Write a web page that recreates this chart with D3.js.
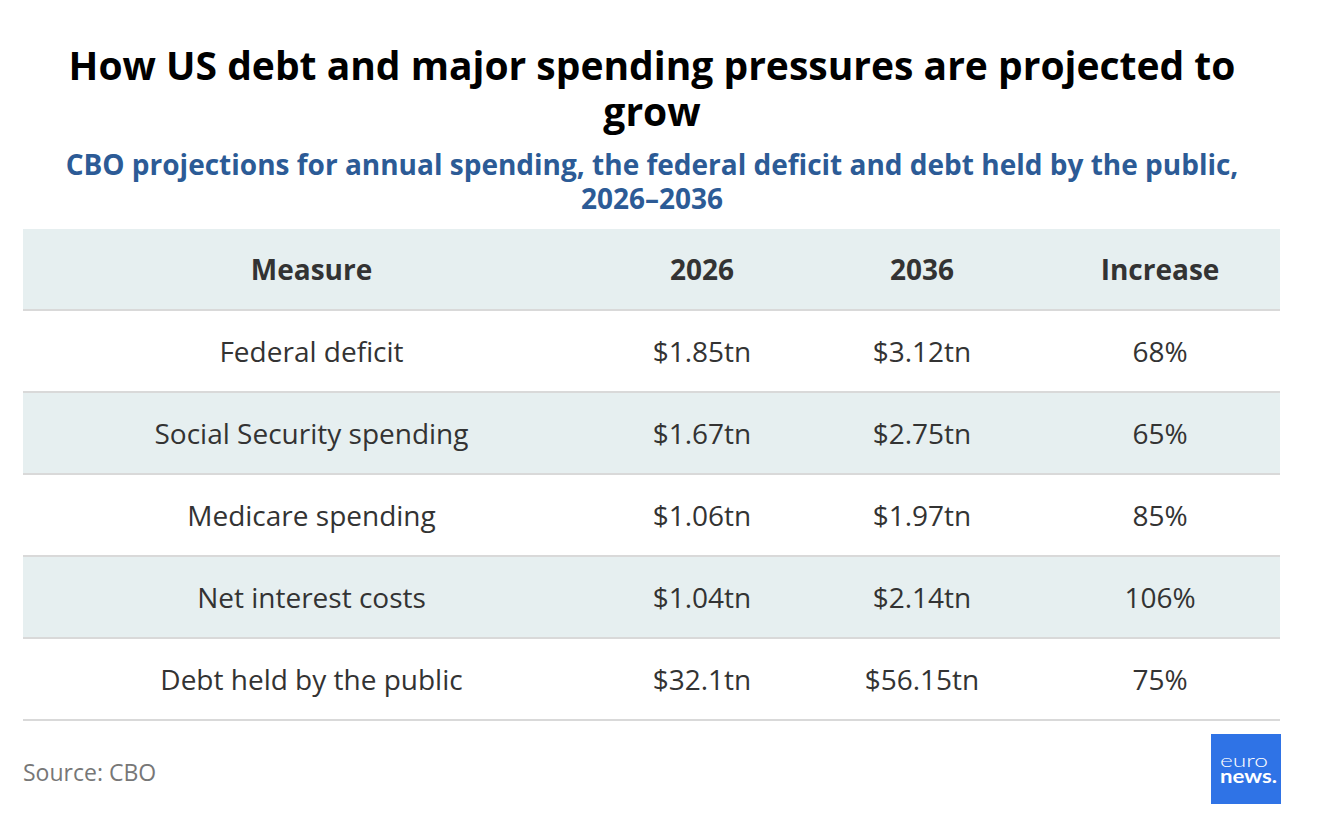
<!DOCTYPE html>
<html>
<head>
<meta charset="utf-8">
<script src="https://cdn.jsdelivr.net/npm/d3@7"></script>
<style>
  body { margin: 0; background: #fff; }
  svg { display: block; font-family: "Open Sans", "Noto Sans", sans-serif; }
</style>
</head>
<body>
<svg id="chart" width="1328" height="834"></svg>
<script>
const columns = ["Measure", "2026", "2036", "Increase"];
const measures = ["Federal deficit", "Social Security spending", "Medicare spending", "Net interest costs", "Debt held by the public"];
const values2026 = ["$1.85tn", "$1.67tn", "$1.06tn", "$1.04tn", "$32.1tn"];
const values2036 = ["$3.12tn", "$2.75tn", "$1.97tn", "$2.14tn", "$56.15tn"];
const increases = ["68%", "65%", "85%", "106%", "75%"];

const rows = measures.map((m, i) => [m, values2026[i], values2036[i], increases[i]]);

const svg = d3.select("#chart");
const left = 23, right = 1280;

// title, two lines as in the original
svg.append("text")
    .attr("x", 652).attr("y", 80)
    .attr("text-anchor", "middle")
    .attr("font-size", 39).attr("font-weight", 700).attr("fill", "#000")
    .text("How US debt and major spending pressures are projected to");
svg.append("text")
    .attr("x", 652).attr("y", 126)
    .attr("text-anchor", "middle")
    .attr("font-size", 39).attr("font-weight", 700).attr("fill", "#000")
    .text("grow");

svg.append("text")
    .attr("x", 652).attr("y", 175)
    .attr("text-anchor", "middle")
    .attr("font-size", 28).attr("font-weight", 700).attr("fill", "#2c5b96")
    .text("CBO projections for annual spending, the federal deficit and debt held by the public,");
svg.append("text")
    .attr("x", 652).attr("y", 209)
    .attr("text-anchor", "middle")
    .attr("font-size", 28).attr("font-weight", 700).attr("fill", "#2c5b96")
    .text("2026–2036");

// column edges
const colEdges = [left, 600, 804, 1040, right];
const colCenter = d3.scaleOrdinal()
    .domain(columns)
    .range(columns.map((c, i) => (colEdges[i] + colEdges[i + 1]) / 2));

// rows: header + data
const y = d3.scaleBand()
    .domain(d3.range(rows.length + 1))
    .range([229, 229 + 82 * (rows.length + 1)])
    .paddingInner(0);

const g = svg.append("g");

// backgrounds
g.selectAll("rect.bg")
    .data(d3.range(rows.length + 1))
    .enter().append("rect")
    .attr("class", "bg")
    .attr("x", left).attr("width", right - left)
    .attr("y", d => y(d)).attr("height", y.bandwidth())
    .attr("fill", d => d % 2 === 0 ? "#e6eff0" : "#ffffff");

// separators
g.selectAll("line.sep")
    .data(d3.range(rows.length + 1))
    .enter().append("line")
    .attr("class", "sep")
    .attr("x1", left).attr("x2", right)
    .attr("y1", d => y(d) + y.bandwidth() - 1)
    .attr("y2", d => y(d) + y.bandwidth() - 1)
    .attr("stroke", "#d9d9d9").attr("stroke-width", 2);

// header text
g.selectAll("text.head")
    .data(columns)
    .enter().append("text")
    .attr("class", "head")
    .attr("x", d => colCenter(d))
    .attr("y", y(0) + y.bandwidth() / 2)
    .attr("dy", "0.35em")
    .attr("text-anchor", "middle")
    .attr("font-size", 28).attr("font-weight", 700).attr("fill", "#333")
    .text(d => d);

// body
const rowG = g.selectAll("g.row")
    .data(rows)
    .enter().append("g")
    .attr("class", "row")
    .attr("transform", (d, i) => `translate(0,${y(i + 1) + y.bandwidth() / 2})`);

rowG.selectAll("text")
    .data(d => d.map((v, j) => ({ col: columns[j], v })))
    .enter().append("text")
    .attr("x", d => colCenter(d.col))
    .attr("dy", "0.35em")
    .attr("text-anchor", "middle")
    .attr("font-size", 28).attr("fill", "#333")
    .text(d => d.v);

// source
svg.append("text")
    .attr("x", left).attr("y", 781)
    .attr("font-size", 23).attr("fill", "#777")
    .text("Source: CBO");

// logo
const logo = svg.append("g").attr("transform", "translate(1211,734)");
logo.append("rect").attr("width", 70).attr("height", 70).attr("fill", "#2f73e6");
logo.append("text").attr("x", 9).attr("y", 33)
    .attr("font-size", 18).attr("font-weight", 300).attr("fill", "#fff")
    .attr("font-family", "Lato, sans-serif")
    .attr("textLength", 48).attr("lengthAdjust", "spacingAndGlyphs")
    .text("euro");
logo.append("text").attr("x", 9).attr("y", 49)
    .attr("font-size", 18).attr("font-weight", 700).attr("fill", "#fff")
    .attr("font-family", "Lato, sans-serif")
    .attr("textLength", 57).attr("lengthAdjust", "spacingAndGlyphs")
    .text("news.");
</script>
</body>
</html>
